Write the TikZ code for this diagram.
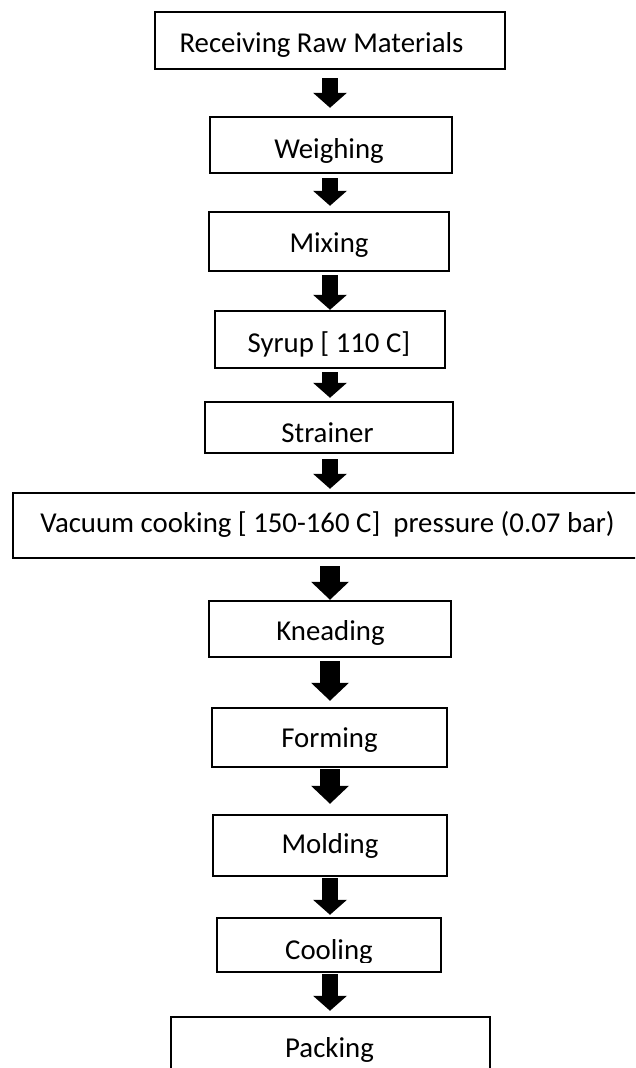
\documentclass[tikz,border=0pt]{standalone}
\usepackage{fontspec}
\setmainfont{Carlito}
\usetikzlibrary{arrows.meta}
\begin{document}
\begin{tikzpicture}[x=1pt,y=-1pt,
  stage/.style={draw=black, line width=2.5pt, rectangle, inner sep=0pt},
  lbl/.style={anchor=base, inner sep=0pt, font=\fontsize{28.8pt}{34pt}\selectfont},
  flow/.style={line width=16pt, -{Triangle[width=34pt,length=15pt,line width=0pt]}},
  bigflow/.style={line width=20pt, -{Triangle[width=38pt,length=18pt,line width=0pt]}}]
\useasboundingbox (0,0) rectangle (635,1068);
\clip (0,0) rectangle (635,1068);
\coordinate (axis) at (330,0);
% boxes
\node[stage, minimum width=350pt, minimum height=57pt] (recv) at (330,40.5) {};
\node[stage, minimum width=242pt, minimum height=56pt] (weigh) at (331,145) {};
\node[stage, minimum width=240pt, minimum height=59pt] (mix) at (329,241.5) {};
\node[stage, minimum width=230pt, minimum height=57pt] (syrup) at (330,339.5) {};
\node[stage, minimum width=248pt, minimum height=51pt] (strain) at (329,427.5) {};
\node[stage, minimum width=624pt, minimum height=65pt] (vac) at (325,525.5) {};
\node[stage, minimum width=242pt, minimum height=56pt] (knead) at (330,629) {};
\node[stage, minimum width=235pt, minimum height=59pt] (form) at (329.5,737.5) {};
\node[stage, minimum width=234pt, minimum height=61pt] (mold) at (330,845.5) {};
\node[stage, minimum width=224pt, minimum height=54pt] (cool) at (329,945) {};
\node[stage, minimum width=319pt, minimum height=63pt] (pack) at (330.5,1048.5) {};
% labels
\node[lbl] (trecv) at (321.5,52) {Receiving Raw Materials};
\node[lbl] (tweigh) at (329,158) {Weighing};
\node[lbl] (tmix) at (329,252) {Mixing};
\node[lbl] (tsyrup) at (329,352) {Syrup [ 110 C]};
\node[lbl] (tstrain) at (327.5,442) {Strainer};
\node[lbl] (tvac) at (327.5,532) {Vacuum cooking [ 150-160 C]\ \ pressure (0.07 bar)};
\node[lbl] (tknead) at (330.5,640) {Kneading};
\node[lbl] (tform) at (329.5,747) {Forming};
\node[lbl] (tmold) at (330,853) {Molding};
\begin{scope}
\clip (200,915) rectangle (460,962);
\node[lbl] (tcool) at (329,959) {Cooling};
\end{scope}
\node[lbl] (tpack) at (329.5,1057) {Packing};
% arrows
\draw[flow, shorten <=8pt, shorten >=8pt] (axis |- recv.south) -- (axis |- weigh.north);
\draw[flow, shorten <=4pt, shorten >=5pt] (axis |- weigh.south) -- (axis |- mix.north);
\draw[flow, shorten <=3pt, shorten >=0pt] (axis |- mix.south) -- (axis |- syrup.north);
\draw[flow, shorten <=3pt, shorten >=3pt] (axis |- syrup.south) -- (axis |- strain.north);
\draw[flow, shorten <=5pt, shorten >=3pt] (axis |- strain.south) -- (axis |- vac.north);
\draw[bigflow, shorten <=7pt, shorten >=0pt] (axis |- vac.south) -- (axis |- knead.north);
\draw[bigflow, shorten <=3pt, shorten >=6pt] (axis |- knead.south) -- (axis |- form.north);
\draw[bigflow, shorten <=1pt, shorten >=10pt] (axis |- form.south) -- (axis |- mold.north);
\draw[flow, shorten <=1pt, shorten >=2pt] (axis |- mold.south) -- (axis |- cool.north);
\draw[flow, shorten <=1pt, shorten >=5pt] (axis |- cool.south) -- (axis |- pack.north);
\end{tikzpicture}
\end{document}
